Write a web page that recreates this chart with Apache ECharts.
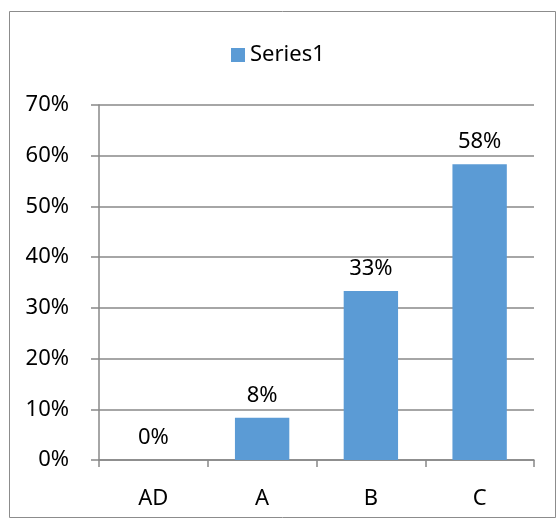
<!DOCTYPE html>
<html>
<head>
<meta charset="utf-8">
<script src="https://cdn.jsdelivr.net/npm/echarts@6/dist/echarts.min.js"></script>
<style>
html,body{margin:0;padding:0;background:#fff;}
#c{width:559px;height:520px;}
</style>
</head>
<body>
<div id="c"></div>
<script>
var categories = ['AD', 'A', 'B', 'C'];
var seriesName = 'Series1';
var values = [0, 8.33, 33.33, 58.33];
var yTicks = [0, 10, 20, 30, 40, 50, 60, 70];

var FONT = 'Noto Sans';
var FS = 22;
var chart = echarts.init(document.getElementById('c'), null, {renderer: 'canvas'});
chart.setOption({
  animation: false,
  backgroundColor: '#fff',
  graphic: [{
    type: 'rect',
    shape: {x: 9.5, y: 11.5, width: 546, height: 506},
    style: {fill: 'none', stroke: '#8c8c8c', lineWidth: 1},
    silent: true
  }],
  legend: {
    top: 39,
    left: 226,
    itemWidth: 14,
    itemHeight: 14,
    itemGap: 6,
    icon: 'rect',
    textStyle: {fontFamily: FONT, fontSize: FS, color: '#000'},
    data: [seriesName]
  },
  grid: {left: 99, right: 25, top: 105, bottom: 60, containLabel: false},
  xAxis: {
    type: 'category',
    data: categories,
    axisLine: {lineStyle: {color: '#888', width: 1.5}},
    axisTick: {show: true, length: 7, alignWithLabel: false, lineStyle: {color: '#888', width: 1.5}},
    axisLabel: {fontFamily: FONT, fontSize: FS, color: '#000', margin: 28}
  },
  yAxis: {
    type: 'value',
    min: yTicks[0],
    max: yTicks[yTicks.length - 1],
    interval: 10,
    axisLine: {show: true, lineStyle: {color: '#888', width: 1.5}},
    axisTick: {show: true, length: 8, inside: false, lineStyle: {color: '#888', width: 1.5}},
    splitLine: {lineStyle: {color: '#888', width: 1.5}},
    axisLabel: {fontFamily: FONT, fontSize: FS, color: '#000', margin: 30, formatter: function (v) { return v + '%'; }}
  },
  series: [{
    name: seriesName,
    type: 'bar',
    data: values,
    barWidth: '50%',
    itemStyle: {color: '#5B9BD5'},
    label: {
      show: true,
      position: 'top',
      distance: 11,
      fontFamily: FONT,
      fontSize: FS,
      color: '#000',
      formatter: function (p) { return Math.round(p.value) + '%'; }
    }
  }]
});
</script>
</body>
</html>
